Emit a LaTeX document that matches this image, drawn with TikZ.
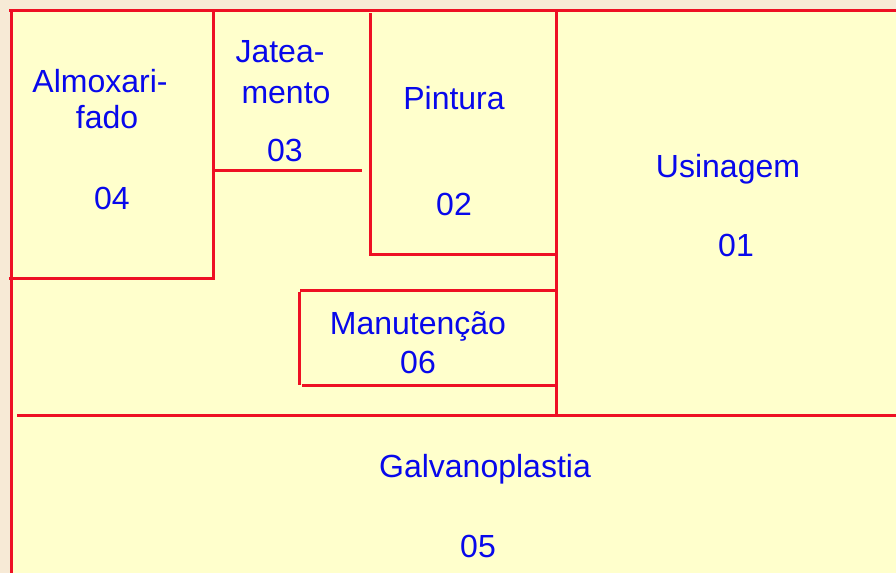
\documentclass[tikz,border=0pt]{standalone}
\usepackage{fontspec}
\setmainfont{Liberation Sans}
\definecolor{outerbg}{RGB}{247,234,214}
\definecolor{paper}{RGB}{255,255,204}
\definecolor{wall}{RGB}{238,16,36}
\definecolor{label}{RGB}{8,8,235}
\tikzset{
  wallline/.style={draw=wall, line width=3pt},
  room/.style={text=label, font=\fontsize{32}{38}\selectfont, inner sep=0pt, align=center}
}
\begin{document}
\begin{tikzpicture}[x=1pt,y=-1pt]
\useasboundingbox (0,0) rectangle (896,573);
\fill[outerbg] (0,0) rectangle (896,573);
\fill[paper] (10,9) rectangle (896,573);
% outer walls
\draw[wallline] (9,10) -- (896,10);
\draw[wallline] (11,10) -- (11,573);
% Almoxarifado
\draw[wallline] (213,10) -- (213,278) -- (9,278);
% Jateamento
\draw[wallline] (213,170) -- (362,170);
% Pintura
\draw[wallline] (370,13) -- (370,254) -- (556,254);
% Usinagem
\draw[wallline] (556,10) -- (556,415);
% Manutencao
\draw[wallline] (300,290) -- (556,290);
\draw[wallline] (299,292) -- (299,385);
\draw[wallline] (302,385) -- (556,385);
% Galvanoplastia
\draw[wallline] (17,415) -- (896,415);
% labels
\node[room] (almox) at (100,81) {Almoxari-};
\node[room] (almoxb) at (107,117) {fado};
\node[room] (n04) at (112,198) {04};
\node[room] (jat) at (280,52) {Jatea-};
\node[room] (jatb) at (286,93) {mento};
\node[room] (n03) at (285,150) {03};
\node[room] (pint) at (454,98) {Pintura};
\node[room] (n02) at (454,204) {02};
\node[room] (usin) at (728,169) {Usinagem};
\node[room] (n01) at (736,245) {01};
\node[room] (manu) at (418,326) {Manutenção};
\node[room] (n06) at (418,362) {06};
\node[room] (galv) at (485,469) {Galvanoplastia};
\node[room] (n05) at (478,546) {05};
\end{tikzpicture}
\end{document}
